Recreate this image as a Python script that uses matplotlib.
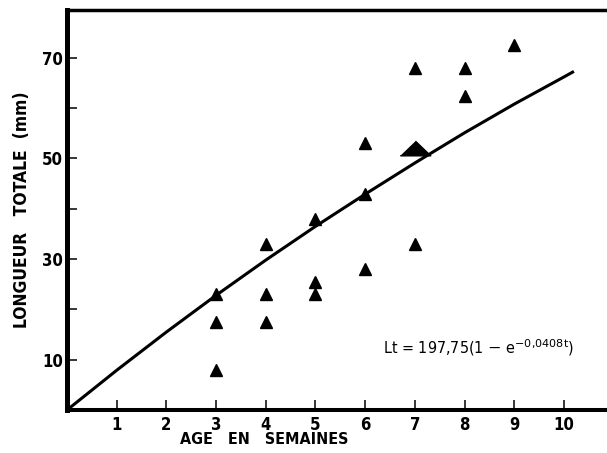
import matplotlib.pyplot as plt

# observed lengths (mm) by age (weeks)
age = [3, 3, 3, 4, 4, 4, 5, 5, 5, 6, 6, 6, 7, 7, 8, 8, 9]
length = [23, 17.5, 8, 33, 23, 17.5, 38, 25.5, 23, 53, 43, 28, 68, 33, 68, 62.5, 72.5]

# grouped point (big triangle)
big_age = [7]
big_length = [52]

# fitted curve
curve_t = [0, 1, 2, 3, 4, 5, 6, 7, 8, 9, 10, 10.2]
curve_lt = [0, 7.9, 15.5, 22.8, 29.8, 36.5, 42.9, 49.1, 55.1, 60.8, 66.2, 67.3]

x_ticks = [1, 2, 3, 4, 5, 6, 7, 8, 9, 10]
y_ticks = [10, 20, 30, 40, 50, 60, 70]
y_ticklabels = ['10', '', '30', '', '50', '', '70']

plt.rcParams['font.family'] = ['DejaVu Sans']
plt.rcParams['mathtext.fontset'] = 'dejavusans'

fig = plt.figure(figsize=(6.07, 4.53), dpi=100)
ax = fig.add_axes([0.1104, 0.0949, 0.8924, 0.883])

ax.plot(curve_t, curve_lt, color='black', linewidth=2.2, solid_capstyle='butt')
ax.plot(age, length, linestyle='none', marker='^', markersize=8.5, color='black')
big_marker = [(-1, -0.48), (1, -0.48), (0, 0.48)]
ax.plot(big_age, big_length, linestyle='none', marker=big_marker, markersize=22, color='black')

ax.set_xlim(0, 10.9)
ax.set_ylim(0, 79.5)

ax.set_xticks(x_ticks)
ax.set_xticklabels([str(v) for v in x_ticks])
ax.set_yticks(y_ticks)
ax.set_yticklabels(y_ticklabels)
ax.tick_params(direction='in', length=7.2, width=1.1, color='black')
ax.tick_params(axis='x', pad=4)
ax.tick_params(axis='y', pad=3)
for lbl in ax.get_xticklabels() + ax.get_yticklabels():
    lbl.set_fontsize(12)
    lbl.set_fontweight('bold')
    lbl.set_fontstretch('condensed')

ax.spines['right'].set_visible(False)
ax.spines['left'].set_linewidth(3.6)
ax.spines['bottom'].set_linewidth(2.9)
ax.spines['top'].set_linewidth(2.5)

ax.text(6.36, 12.3, r"Lt = 197,75(1 $-$ e$^{-0{,}0408\mathrm{t}}$)", fontsize=11.5,
        va='center', ha='left', fontstretch='condensed')

fig.text(264 / 607, 1 - 440 / 453, 'AGE   EN   SEMAINES', fontsize=11.5, fontweight='bold',
         fontstretch='condensed', ha='center', va='center')
fig.text(22 / 607, 1 - 210 / 453, 'LONGUEUR   TOTALE  (mm)', fontsize=12.5, fontweight='bold',
         fontstretch='condensed', rotation=90, ha='center', va='center')

fig.savefig('out.png', dpi=100)
